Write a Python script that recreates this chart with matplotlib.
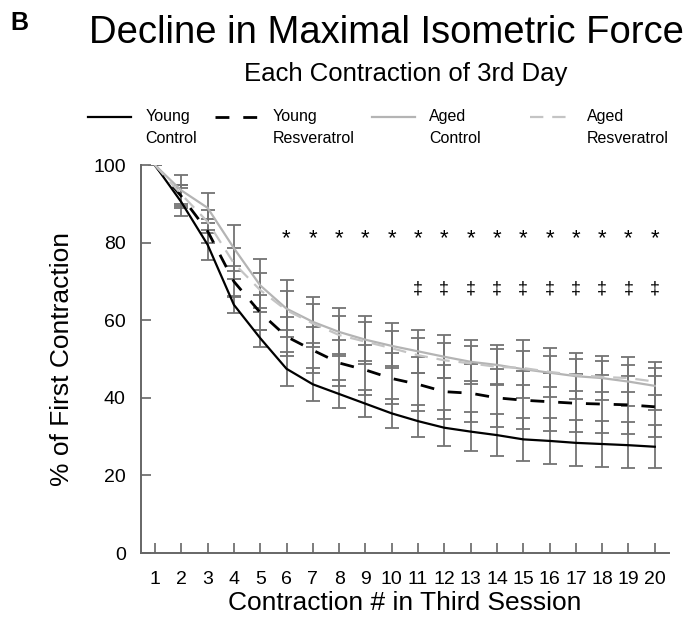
import numpy as np
import matplotlib
matplotlib.use("Agg")
import matplotlib.pyplot as plt
from matplotlib.lines import Line2D

plt.rcParams['font.family'] = ['Liberation Sans', 'DejaVu Sans']

# data (% of first contraction)
contraction = list(range(1, 21))

young_ctrl = [100, 90.5, 79.5, 64, 55.4, 47.5, 43.5, 41, 38.5, 36,
              34, 32.3, 31.3, 30.4, 29.3, 28.9, 28.4, 28.1, 27.8, 27.4]
young_resv = [100, 92, 83, 70, 62, 55.8, 52.3, 49, 47.2, 45,
              43.5, 41.6, 41.2, 40, 39.4, 39, 38.6, 38.4, 38.2, 37.7]
aged_ctrl = [100, 93.5, 89, 78.6, 69, 63, 59.6, 57, 55, 53.4,
             52, 50.6, 49.3, 48.5, 47.4, 46.5, 45.6, 45.1, 44.2, 43.1]
aged_resv = [100, 92.5, 85.4, 74.7, 67.8, 62.6, 59.2, 56.2, 54.5, 52.8,
             51, 49.7, 48.9, 48, 47.7, 46.7, 45.9, 45.4, 45.1, 44.2]

young_ctrl_err = [0, 3.5, 3.9, 2.2, 2.2, 4.4, 4.2, 3.5, 3.5, 3.8,
                  4.2, 4.6, 5, 5.4, 5.6, 6, 6, 5.9, 6, 5.6]
young_resv_err = [0, 3, 3, 4, 4.5, 5, 6, 6, 6.5, 6.5,
                  7, 7, 7.5, 7.5, 7.5, 7.5, 7.5, 7.5, 7.5, 7.9]
aged_ctrl_err = [0, 3.9, 3.9, 5.9, 6.8, 7.4, 6.4, 6.2, 6.2, 5.8,
                 5.5, 5.6, 5.6, 5.1, 7.5, 6.3, 5.9, 5.7, 6.4, 6.2]
aged_resv_err = [0, 2.5, 3, 4, 4.5, 5, 5, 5, 5, 4.5,
                 4.5, 4.5, 4.5, 4.5, 4.5, 4, 4, 4, 3.5, 3.4]

# significance markers
star_x = list(range(6, 21))
star_y = 81
dagger_x = list(range(11, 21))
dagger_y = 68

series = [
    ("Young\nControl", young_ctrl, young_ctrl_err, "black", "-", 1.6),
    ("Young\nResveratrol", young_resv, young_resv_err, "black", (0, (5, 5)), 2.0),
    ("Aged\nControl", aged_ctrl, aged_ctrl_err, "#b4b4b4", "-", 1.6),
    ("Aged\nResveratrol", aged_resv, aged_resv_err, "#c4c4c4", (0, (6, 4)), 1.6),
]

fig = plt.figure(figsize=(6.88, 6.21), dpi=100)
ax = fig.add_axes([0.205, 0.1095, 0.767, 0.6245])

for name, mean, err, col, ls, lw in series:
    ax.errorbar(contraction, mean, yerr=err, fmt="none", ecolor="#737373",
                elinewidth=1.3, capsize=5, capthick=1.3, zorder=2)
for name, mean, err, col, ls, lw in series:
    ax.plot(contraction, mean, color=col, linestyle=ls, linewidth=lw, zorder=3)

for xs in star_x:
    ax.text(xs, star_y, "*", ha="center", va="center", fontsize=16)
for xs in dagger_x:
    ax.text(xs, dagger_y, "\u2021", ha="center", va="center", fontsize=13)

ax.set_xlim(0.47, 20.53)
ax.set_ylim(0, 100)
ax.set_xticks(contraction)
ax.set_yticks([0, 20, 40, 60, 80, 100])
ax.tick_params(direction="in", length=7, width=1.2, color="#666666",
               labelsize=14, pad=13)
ax.tick_params(axis="y", pad=11)
for s in ["top", "right"]:
    ax.spines[s].set_visible(False)
for s in ["left", "bottom"]:
    ax.spines[s].set_color("#666666")
    ax.spines[s].set_linewidth(1.4)

ax.set_xlabel("Contraction # in Third Session", fontsize=19, labelpad=2)
ax.set_ylabel("% of First Contraction", fontsize=19, labelpad=14)

fig.text(0.015, 0.963, "B", fontsize=18, fontweight="bold", ha="left", va="center")
fig.text(0.561, 0.947, "Decline in Maximal Isometric Force", fontsize=27.5,
         ha="center", va="center")
fig.text(0.589, 0.881, "Each Contraction of 3rd Day", fontsize=18.5,
         ha="center", va="center")

# legend drawn by hand: handle next to first text line
leg_x = [0.128, 0.313, 0.541, 0.770]
for (name, mean, err, col, ls, lw), lx in zip(series, leg_x):
    fig.add_artist(Line2D([lx, lx + 0.062], [0.811, 0.811], color=col,
                          linestyle=ls, linewidth=lw, transform=fig.transFigure))
    fig.text(lx + 0.083, 0.824, name, fontsize=11.5, ha="left", va="top",
             linespacing=1.55)

fig.savefig("out.png", dpi=100)
